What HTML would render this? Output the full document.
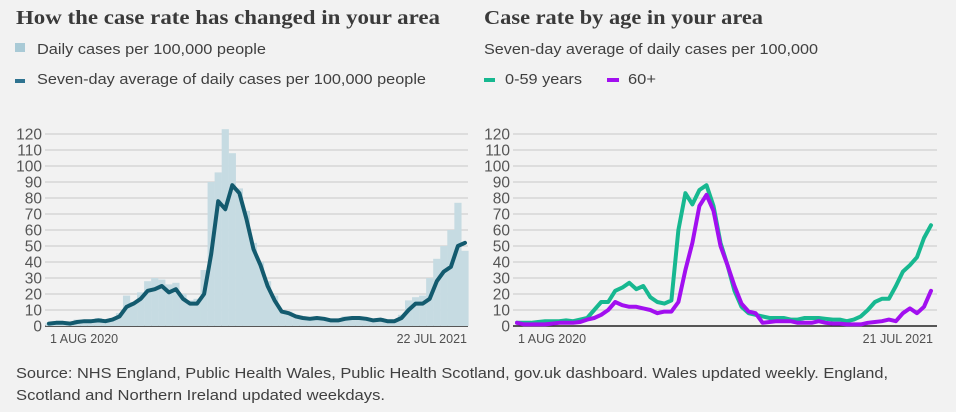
<!DOCTYPE html>
<html><head><meta charset="utf-8"><style>
html,body{margin:0;padding:0;background:#f2f2f2;}
svg{display:block;font-family:"Liberation Sans",sans-serif;}
.t{font-family:"Liberation Serif",serif;font-weight:bold;font-size:20px;fill:#3a3a3a;}
.l{font-size:15px;fill:#404040;}
.tick{font-size:15.5px;fill:#555;}
.xt{font-size:12.5px;fill:#505050;}
</style></head><body>
<svg id="root" width="956" height="412" viewBox="0 0 956 412">
<text class="t" x="16" y="24" textLength="424" lengthAdjust="spacingAndGlyphs">How the case rate has changed in your area</text>
<rect x="15" y="43" width="10" height="9" fill="#a9cad6"/>
<text class="l" x="37" y="54" textLength="229" lengthAdjust="spacingAndGlyphs">Daily cases per 100,000 people</text>
<rect x="15" y="79" width="10" height="4" fill="#2e7390"/>
<text class="l" x="37" y="84" textLength="389" lengthAdjust="spacingAndGlyphs">Seven-day average of daily cases per 100,000 people</text>
<text class="t" x="484" y="24" textLength="279" lengthAdjust="spacingAndGlyphs">Case rate by age in your area</text>
<text class="l" x="484" y="54" textLength="334" lengthAdjust="spacingAndGlyphs">Seven-day average of daily cases per 100,000</text>
<rect x="484" y="78" width="11" height="4" fill="#17b890"/>
<text class="l" x="505" y="84" textLength="77" lengthAdjust="spacingAndGlyphs">0-59 years</text>
<rect x="607" y="78" width="12" height="4" fill="#a20ff0"/>
<text class="l" x="628" y="84" textLength="28" lengthAdjust="spacingAndGlyphs">60+</text>
<g id="left"></g>
<g id="right"></g>
<text class="l" x="16" y="378" textLength="872" lengthAdjust="spacingAndGlyphs">Source: NHS England, Public Health Wales, Public Health Scotland, gov.uk dashboard. Wales updated weekly. England,</text>
<text class="l" x="16" y="400" textLength="369" lengthAdjust="spacingAndGlyphs">Scotland and Northern Ireland updated weekdays.</text>
</svg>
<script>
const yTicks=[0,10,20,30,40,50,60,70,80,90,100,110,120];
const leftXLabels=["1 AUG 2020","22 JUL 2021"];
const rightXLabels=["1 AUG 2020","21 JUL 2021"];
const avgCases=[1.5,2,2,1.5,2.5,3,3,3.5,3,4,6,12,14,17,22,23,25,21,23,17,14,14,20,45,78,73,88,83,67,48,38,25,16,9,8,6,5,4.5,5,4.5,3.5,3.5,4.5,5,5,4.5,3.5,4,3,3,5,10,14,14,17,28,34,37,50,52];
const dailyCases=[2,3,2,2,4,3,4,5,3,5,8,19,15,21,28,30,29,26,27,20,16,17,35,90,96,123,108,86,72,52,40,28,19,10,9,7,6,5,6,5,4,4,6,6,5,5,4,5,4,4,7,16,18,19,30,42,50,60,77,47];
const youngCases=[2,2,2,2.5,3,3,3,3.5,3,4,5,10,15,15,22,24,27,23,25,18,15,14,16,60,83,76,85,88,75,52,38,22,12,8,7,6,5,5,5,4,4,5,5,5,4.5,4,4,3,4,6,10,15,17,17,25,34,38,43,55,63];
const oldCases=[2,1,1,1,1,1.5,2,2,2,2.5,4,5,7,10,15,13,12,12,11,10,8,9,9,15,35,52,75,82,72,50,38,25,14,9,8,2,2.5,3,3,3,2,2,2,3,2,1.5,1.5,1,1,1,2,2.5,3,4,3,8,11,8,12,22];
const NS="http://www.w3.org/2000/svg";
function mk(p,tag,a){const e=document.createElementNS(NS,tag);for(const k in a)e.setAttribute(k,a[k]);p.appendChild(e);return e;}
function chart(g,gx0,gx1,dx0,dx1,labelX,xlabels){
  const y=v=>326-v*1.6;
  yTicks.forEach(t=>{
    const ln=mk(g,'line',{x1:gx0,x2:gx1,y1:y(t),y2:y(t),stroke:t===0?'#222':'#c8c8c8','stroke-width':t===0?1.5:1});
    
    
    const tx=mk(g,'text',{x:labelX,y:y(t)+5.5,'text-anchor':'end',class:'tick'});tx.textContent=t;
    
    
  });
  const a=mk(g,'text',{x:dx0+1,y:343,class:'xt'});a.textContent=xlabels[0];
  
  
  const b=mk(g,'text',{x:dx1+2,y:343,class:'xt','text-anchor':'end'});b.textContent=xlabels[1];
  
  
  return {y,x:(i,n)=>dx0+i*(dx1-dx0)/(n-1)};
}
function line(g,s,vals,color,name){
  const pts=vals.map((v,i)=>s.x(i,vals.length).toFixed(1)+','+s.y(v).toFixed(1)).join(' ');
  const p=mk(g,'polyline',{points:pts,fill:'none',stroke:color,'stroke-width':4,'stroke-linejoin':'round','stroke-linecap':'round'});
  
  
}
const L=document.getElementById('left');
const sl=chart(L,45,468,49,465,42,leftXLabels);
dailyCases.forEach((v,i)=>{
  const cx=sl.x(i,dailyCases.length);
  const r=mk(L,'rect',{x:cx-3.6,y:sl.y(v),width:7.2,height:326-sl.y(v),fill:'#c6dbe2'});
  
  
});
line(L,sl,avgCases,'#135a6e','seven-day-average-line');
const R=document.getElementById('right');
const sr=chart(R,513,937,517,931,510,rightXLabels);
line(R,sr,youngCases,'#17b890','line-0-59');
line(R,sr,oldCases,'#a20ff0','line-60plus');
</script>
</body></html>
